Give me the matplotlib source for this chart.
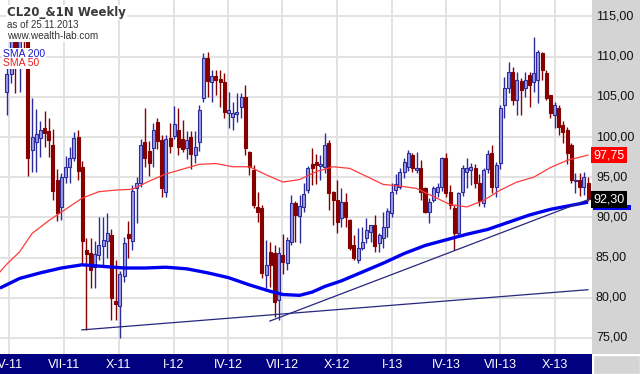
import numpy as np
import pandas as pd
import matplotlib
matplotlib.use("Agg")
import matplotlib.pyplot as plt
from matplotlib.patches import Rectangle
from matplotlib.transforms import blended_transform_factory

# ---------------- data (weekly OHLC, CL continuous, from 28.03.2011) ----------------
start_week = "2011-03-28"
opens = [105.6, 107.9, 112.8, 109.6, 113.2, 113.5, 98.4, 99.4, 99.9, 101.1,
         100.8, 99.0, 94.6, 91.3, 95.0, 96.3, 97.4, 100.0, 96.3, 86.0,
         85.6, 83.8, 85.3, 86.4, 87.0, 87.8, 79.6, 79.0, 82.7, 87.9,
         87.0, 93.6, 94.3, 99.4, 98.2, 98.6, 101.9, 99.6, 93.2, 99.9,
         100.1, 100.9, 99.8, 98.6, 100.0, 97.8, 99.4, 104.9, 109.8, 106.8,
         107.6, 107.2, 106.8, 103.0, 102.5, 102.9, 103.7, 105.0, 98.1, 95.9,
         91.3, 91.2, 82.8, 85.7, 85.6, 79.7, 85.3, 84.3, 86.9, 91.8,
         90.2, 91.3, 93.4, 96.6, 96.9, 96.4, 96.3, 99.3, 93.2, 92.2,
         89.9, 91.9, 89.7, 86.6, 84.7, 86.2, 87.4, 88.2, 89.1, 86.8,
         87.4, 88.8, 90.5, 93.4, 93.8, 95.6, 96.3, 97.8, 95.9, 96.1,
         93.7, 90.7, 92.2, 93.2, 93.8, 97.4, 93.2, 91.2, 88.1, 93.2,
         95.6, 95.9, 96.1, 94.3, 91.8, 96.0, 98.0, 93.8, 96.8, 104.0,
         106.1, 108.1, 104.6, 107.0, 106.1, 107.7, 106.8, 107.1, 110.4, 108.0,
         105.2, 102.7, 103.6, 101.5, 100.9, 99.0, 94.5, 94.7, 93.8, 94.3]
highs = [108.6, 113.0, 113.2, 112.5, 114.0, 114.8, 104.8, 103.5, 102.0, 103.2,
         102.4, 101.0, 96.0, 95.5, 97.7, 98.8, 100.6, 100.9, 97.0, 87.4,
         87.4, 87.0, 90.0, 90.1, 90.6, 88.5, 84.7, 83.3, 87.5, 89.6,
         94.0, 95.0, 99.8, 103.6, 99.5, 101.7, 102.4, 100.3, 100.3, 101.8,
         103.9, 103.6, 102.1, 100.7, 100.8, 100.8, 104.0, 110.4, 110.6, 108.3,
         108.3, 108.3, 108.0, 105.6, 104.4, 105.5, 105.5, 106.5, 98.3, 96.5,
         93.2, 91.5, 87.2, 86.9, 86.6, 86.3, 87.9, 87.6, 92.8, 92.0,
         92.8, 94.3, 96.4, 98.6, 97.9, 97.8, 100.5, 99.6, 93.3, 94.7,
         93.7, 93.0, 89.8, 87.8, 88.7, 88.8, 89.9, 89.0, 90.3, 88.1,
         90.7, 91.2, 94.3, 95.4, 96.1, 97.4, 98.4, 98.0, 98.1, 97.1,
         93.8, 92.4, 93.9, 94.3, 97.5, 98.0, 94.0, 91.6, 93.2, 96.5,
         97.4, 96.8, 96.7, 95.4, 96.1, 98.4, 99.0, 96.9, 104.0, 107.5,
         109.3, 108.7, 108.1, 107.3, 108.1, 108.1, 112.4, 110.8, 110.6, 108.3,
         105.2, 104.4, 104.0, 102.0, 101.3, 99.2, 95.5, 95.5, 95.6, 95.0]
lows = [102.8, 106.7, 105.5, 105.6, 111.0, 95.2, 95.6, 95.6, 97.5, 98.8,
        97.5, 92.2, 89.6, 89.7, 94.3, 94.3, 97.0, 94.6, 84.1, 76.0,
        81.2, 81.2, 84.7, 83.8, 85.0, 77.2, 77.2, 75.0, 81.9, 85.0,
        86.0, 89.3, 93.8, 96.3, 95.1, 96.3, 98.5, 92.5, 92.5, 98.0,
        99.7, 97.8, 98.1, 97.3, 96.0, 96.8, 98.2, 104.4, 105.0, 104.4,
        105.2, 103.7, 102.4, 101.1, 100.9, 101.9, 102.4, 97.8, 95.3, 91.2,
        89.4, 82.5, 81.2, 81.3, 77.6, 77.2, 83.0, 83.5, 86.6, 86.9,
        86.8, 90.7, 93.0, 94.0, 94.1, 94.7, 95.5, 90.9, 89.1, 88.1,
        88.8, 88.8, 85.9, 84.7, 84.3, 85.9, 86.8, 86.9, 85.7, 85.7,
        86.2, 87.6, 90.0, 92.9, 93.5, 94.9, 95.8, 95.6, 95.5, 92.2,
        90.5, 89.3, 91.9, 92.5, 93.3, 92.5, 91.0, 86.0, 87.6, 92.6,
        93.7, 94.0, 93.7, 91.4, 91.3, 95.5, 93.0, 92.5, 96.0, 102.4,
        105.5, 104.0, 102.7, 102.8, 105.0, 103.7, 105.6, 104.2, 107.1, 104.6,
        102.4, 101.1, 100.3, 99.3, 96.7, 94.3, 93.0, 92.6, 92.8, 92.0]
closes = [107.9, 112.8, 109.7, 112.3, 112.0, 97.4, 100.0, 100.4, 100.9, 100.5,
          99.6, 93.3, 90.5, 95.0, 96.3, 97.4, 99.9, 95.8, 87.0, 85.5,
          83.4, 85.5, 86.6, 87.2, 88.0, 80.0, 79.2, 83.0, 86.8, 87.4,
          93.3, 94.3, 99.0, 97.4, 96.8, 100.9, 99.5, 93.6, 99.7, 98.9,
          101.6, 98.8, 98.5, 99.6, 97.9, 98.7, 103.3, 109.8, 107.0, 107.6,
          107.1, 106.8, 103.1, 103.4, 103.0, 103.1, 105.0, 98.6, 96.3, 91.5,
          90.7, 83.1, 84.1, 84.1, 79.5, 85.6, 84.4, 87.2, 91.8, 90.3,
          91.4, 92.9, 96.1, 96.1, 96.5, 96.6, 99.0, 93.0, 92.2, 89.4,
          91.9, 90.0, 86.2, 85.0, 86.2, 86.9, 88.4, 89.0, 86.4, 87.8,
          88.8, 90.8, 93.2, 94.2, 95.6, 96.9, 98.0, 96.1, 96.1, 93.2,
          90.7, 91.9, 93.7, 93.8, 97.4, 93.0, 91.5, 88.1, 93.0, 96.1,
          96.1, 96.3, 94.3, 92.0, 95.9, 97.9, 93.8, 96.5, 103.6, 106.1,
          108.1, 104.6, 107.1, 105.9, 107.1, 106.5, 108.0, 110.6, 108.3, 104.9,
          103.0, 104.0, 101.2, 100.6, 98.0, 94.7, 94.7, 93.8, 95.0, 92.3]

# moving averages (week index, value)
sma_weeks = [-1.7, 0, 3, 6, 10, 14, 18, 22, 26, 30, 34, 38, 42, 46, 50, 54, 58, 62,
             66, 70, 74, 78, 82, 86, 90, 94, 98, 102, 106, 110, 114, 118, 122, 126,
             130, 134, 139]
sma50 = [83.2, 84.2, 85.7, 88.0, 89.6, 91.0, 92.4, 93.2, 93.4, 93.5, 94.5, 95.4,
         96.0, 96.6, 96.7, 96.3, 96.3, 95.3, 94.4, 94.7, 95.7, 96.3, 96.1, 95.1,
         94.1, 93.9, 93.6, 92.6, 91.6, 91.3, 92.1, 93.4, 94.4, 95.0, 96.2, 97.1, 97.75]
sma200_weeks = [-1.7, 3, 8, 13, 18, 23, 28, 33, 38, 43, 48, 53, 58, 63, 66, 70, 73,
                76, 80, 85, 90, 95, 100, 105, 110, 115, 120, 125, 130, 135, 139]
sma200 = [81.2, 82.4, 83.1, 83.7, 84.1, 83.9, 83.7, 83.7, 83.8, 83.6, 83.1, 82.5,
          81.6, 80.8, 80.4, 80.3, 80.7, 81.4, 82.1, 83.2, 84.3, 85.5, 86.5, 87.2,
          87.9, 88.5, 89.4, 90.3, 91.0, 91.5, 91.9]

# hand-drawn trend lines: (week, price) end points
trend_a = [(17.9, 76.0), (139.0, 81.0)]
trend_b = [(62.9, 77.1), (139.5, 92.3)]

y_ticks = [75, 80, 85, 90, 95, 100, 105, 110, 115]
quarter_starts = ["2011-04-01", "2011-07-01", "2011-10-01", "2012-01-01", "2012-04-01",
                  "2012-07-01", "2012-10-01", "2013-01-01", "2013-04-01", "2013-07-01",
                  "2013-10-01"]
quarter_labels = ["IV-11", "VII-11", "X-11", "I-12", "IV-12", "VII-12", "X-12",
                  "I-13", "IV-13", "VII-13", "X-13"]
title = "CL20_&1N Weekly"
subtitle = "as of 25.11.2013"
site = "www.wealth-lab.com"

# ---------------- figure ----------------
W, H = 640, 374
fig = plt.figure(figsize=(W / 100, H / 100), dpi=100)
fig.patch.set_facecolor("white")
ax = fig.add_axes([0, 20 / H, 592 / W, 354 / H])
ax.set_xlim(-1.67, 139.95)
ax.set_ylim(73.0, 117.05)
for s in ax.spines.values():
    s.set_visible(False)

dates = pd.date_range(start_week, periods=len(closes), freq="W-MON")
t0 = dates[0]
x = np.asarray((dates - t0).days, dtype=float) / 7.0
qx = np.array([(pd.Timestamp(d) - t0).days / 7.0 for d in quarter_starts])

ax.set_yticks(y_ticks)
ax.set_xticks(qx)
ax.grid(True, color="#e2e2e2", lw=1.4)
ax.set_axisbelow(True)
ax.tick_params(length=0, labelleft=False, labelbottom=False)

o = np.array(opens); h = np.array(highs); l = np.array(lows); c = np.array(closes)
up = c >= o
UP_EDGE = "#2b2b9e"
UP_FILL = "#9c9ce2"
DN = "#870000"
bw = 0.72
for xi, oi, hi, li, ci, u in zip(x, o, h, l, c, up):
    col = UP_EDGE if u else DN
    ax.vlines(xi, li, hi, color=col, lw=1.0, zorder=2)
    bottom = min(oi, ci)
    height = max(abs(ci - oi), 0.12)
    ax.add_patch(Rectangle((xi - bw / 2, bottom), bw, height,
                           facecolor=UP_FILL if u else DN, edgecolor=col,
                           lw=0.8, zorder=3))

ax.plot(sma_weeks, sma50, color="#ff3b3b", lw=0.9, zorder=4)
ax.plot(sma200_weeks, sma200, color="#0000f0", lw=2.4, zorder=4,
        solid_capstyle="butt")
for tl in (trend_a, trend_b):
    ax.plot([p[0] for p in tl], [p[1] for p in tl], color="#27277f", lw=0.9, zorder=5)

# right price panel
fig.patches.append(Rectangle((592 / W, 20 / H), 48 / W, 354 / H, transform=fig.transFigure,
                             facecolor="#d4d4d4", edgecolor="none", zorder=1))
ytr = blended_transform_factory(fig.transFigure, ax.transData)
for v in y_ticks:
    fig.text(596 / W, v, f"{v:.2f}".replace(".", ","), transform=ytr, ha="left",
             va="center", fontsize=9, family="Liberation Sans", color="#111111")

# last-value markers: SMA200 strip under the black last-price box
fig.patches.append(Rectangle((593 / W, 90.95), 38 / W, 0.55, transform=ytr,
                             facecolor="#0000ee", edgecolor="none", zorder=2))
fig.text(593 / W, closes[-1] - 0.1, f"{closes[-1]:.2f}".replace(".", ","), transform=ytr,
         ha="left", va="center", fontsize=9, family="Liberation Sans", color="white",
         bbox=dict(boxstyle="square,pad=0.18", facecolor="black", edgecolor="none"))
fig.text(593 / W, sma50[-1], f"{sma50[-1]:.2f}".replace(".", ","), transform=ytr,
         ha="left", va="center", fontsize=9, family="Liberation Sans", color="white",
         bbox=dict(boxstyle="square,pad=0.18", facecolor="#ff0000", edgecolor="none"))

# bottom date bar
fig.patches.append(Rectangle((0, 0), 592 / W, 20 / H, transform=fig.transFigure,
                             facecolor="#000080", edgecolor="none", zorder=1))
fig.patches.append(Rectangle((593 / W, 0), 47 / W, 19 / H, transform=fig.transFigure,
                             facecolor="#d4d4d4", edgecolor="white", lw=1, zorder=1))
xtr = blended_transform_factory(ax.transData, fig.transFigure)
for xv, lab in zip(qx, quarter_labels):
    fig.text(xv, 9.5 / H, lab, transform=xtr, ha="center", va="center", fontsize=9,
             family="Liberation Sans", color="white")

# header texts (white boxes hide the candles behind them, as in the original)
box = dict(facecolor="white", edgecolor="none", pad=0.5)
fig.text(7 / W, 1 - 36 / H, site, ha="left", va="center", fontsize=7.2,
         family="Liberation Sans", color="#333333", bbox=box)
fig.text(7 / W, 1 - 25.5 / H, subtitle, ha="left", va="center", fontsize=7,
         family="Liberation Sans", color="#333333", bbox=box)
fig.text(7 / W, 1 - 12.5 / H, title, ha="left", va="center", fontsize=8.5,
         family="DejaVu Sans", color="#3a3a3a", fontweight="bold", bbox=box, zorder=5)
fig.text(3 / W, 1 - 54 / H, "SMA 200", ha="left", va="center", fontsize=7.5,
         family="Liberation Sans", color="#1a1ad0", bbox=box)
fig.text(3 / W, 1 - 63.5 / H, "SMA 50", ha="left", va="center", fontsize=7.5,
         family="Liberation Sans", color="#ee2020", bbox=box)

fig.savefig("out.png", dpi=100)
